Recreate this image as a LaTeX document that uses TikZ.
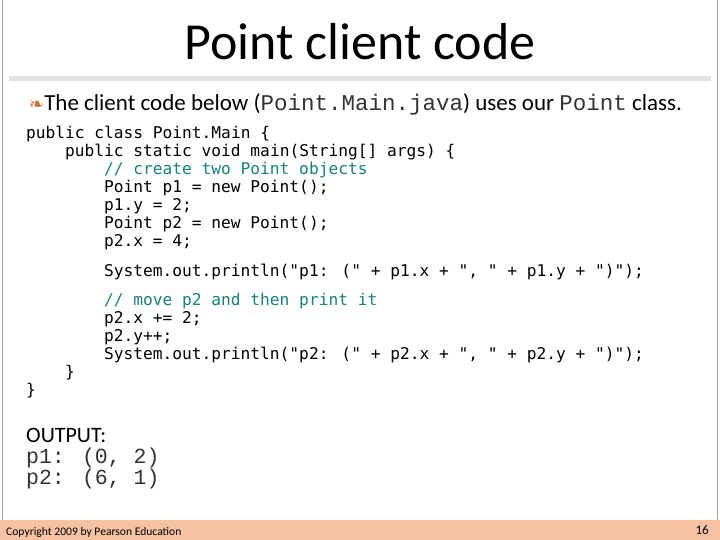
\documentclass[tikz,border=0pt]{standalone}
\usepackage{fontspec}
\setmainfont{Carlito}
\newfontfamily\codef{DejaVu Sans Mono}
\newfontfamily\courf{Liberation Mono}
\newfontfamily\symf{DejaVu Sans}
\definecolor{foot}{HTML}{F7C1A3}
\definecolor{bul}{HTML}{C87137}
\definecolor{cmt}{HTML}{1A7F7F}
\definecolor{bar}{HTML}{E2E2E2}
\begin{document}
\begin{tikzpicture}[x=1pt,y=-1pt,
  codeln/.style={anchor=base west,inner sep=0pt,font=\codef\fontsize{16.2}{18}\selectfont},
  cmtln/.style={codeln,text=cmt},
  outln/.style={anchor=base west,inner sep=0pt,font=\courf\fontsize{21.5}{24}\selectfont,text=black!80}]
\useasboundingbox (0,0) rectangle (720,540);
\fill[white] (0,0) rectangle (720,540);
\draw[gray!70,line width=1] (2,0) -- (2,520) (717.5,0) -- (717.5,520);
\fill[bar] (9,76) rectangle (711,81);
\fill[foot] (0,520) rectangle (720,540);
\node[anchor=base,inner sep=0pt,font=\fontsize{52}{54}\selectfont] (title) at (360,60) {Point client code};
\node[anchor=base west,inner sep=0pt,font=\fontsize{23}{26}\selectfont] (bullet) at (29,111)
 {{\symf\color{bul}\fontsize{18}{20}\selectfont ❧}The client code below ({\courf\color{black!80}\fontsize{22.5}{26}\selectfont Point.Main.java}) uses our {\courf\color{black!80}\fontsize{22.5}{26}\selectfont Point} class.};
\node[codeln] (l1) at (26,139) {public class Point.Main \{};
\node[codeln] (l2) at (65,157) {public static void main(String[] args) \{};
\node[cmtln] (l3) at (104,175) {// create two Point objects};
\node[codeln] (l4) at (104,193) {Point p1 = new Point();};
\node[codeln] (l5) at (104,211) {p1.y = 2;};
\node[codeln] (l6) at (104,229) {Point p2 = new Point();};
\node[codeln] (l7) at (104,247) {p2.x = 4;};
\node[codeln] (l8) at (104,276) {System.out.println("p1: (" + p1.x + ", " + p1.y + ")");};
\node[cmtln] (l9) at (104,305) {// move p2 and then print it};
\node[codeln] (l10) at (104,323) {p2.x += 2;};
\node[codeln] (l11) at (104,341) {p2.y++;};
\node[codeln] (l12) at (104,359) {System.out.println("p2: (" + p2.x + ", " + p2.y + ")");};
\node[codeln] (l13) at (65,377) {\}};
\node[codeln] (l14) at (26,395) {\}};
\node[anchor=base west,inner sep=0pt,font=\fontsize{22}{26}\selectfont] (out) at (26,442) {OUTPUT:};
\node[outln] (o1) at (26,463) {p1: (0, 2)};
\node[outln] (o2) at (26,484) {p2: (6, 1)};
\node[anchor=base west,inner sep=0pt,font=\fontsize{11.6}{13}\selectfont] (copy) at (6,535) {Copyright 2009 by Pearson Education};
\node[anchor=base east,inner sep=0pt,font=\fontsize{13}{14}\selectfont] (pg) at (709,534) {16};
\end{tikzpicture}
\end{document}
